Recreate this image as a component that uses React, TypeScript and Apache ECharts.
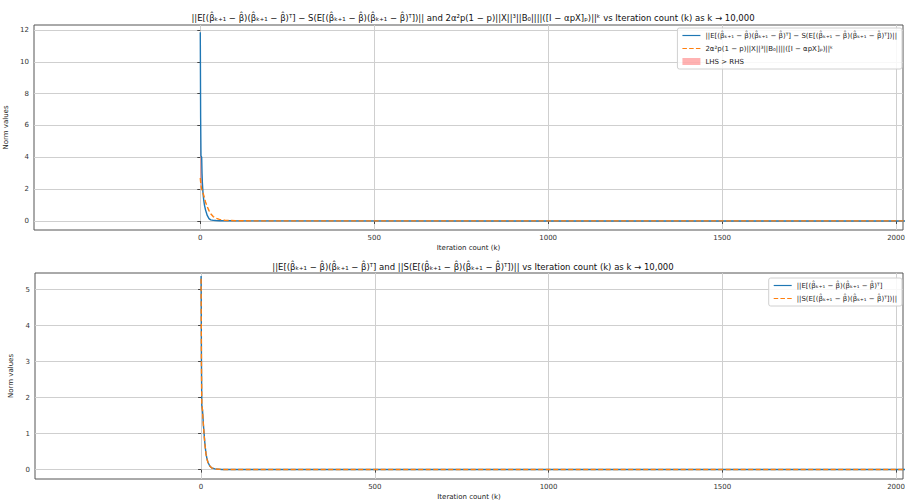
import React, { useEffect, useRef } from "react";
import * as echarts from "echarts";

// ---- data ----
const kTop = [0, 1, 2, 3, 4, 5, 6, 8, 10, 12, 15, 20, 25, 30, 37, 45, 55, 70, 85, 100, 150, 10000];
const blueTop = [11.85, 6.5, 4.1, 4.05, 4.0, 3.0, 2.4, 1.7, 1.3, 1.0, 0.7, 0.35, 0.15, 0.07, 0.04, 0.03, 0.02, 0.02, 0.015, 0.01, 0.005, 0.0];
const orangeTop = [2.7, 2.45, 2.25, 2.1, 2.0, 1.95, 1.85, 1.75, 1.6, 1.45, 1.2, 0.9, 0.65, 0.45, 0.28, 0.17, 0.1, 0.05, 0.03, 0.02, 0.01, 0.0];

const kBottom = [0, 1, 2, 3, 4, 5, 7, 9, 11, 14, 17, 20, 25, 30, 40, 60, 10000];
const blueBottom = [5.38, 3.0, 1.8, 1.72, 1.66, 1.5, 1.2, 0.95, 0.72, 0.45, 0.3, 0.2, 0.1, 0.05, 0.02, 0.005, 0.0];
const orangeBottom = [5.3, 2.9, 1.85, 1.74, 1.64, 1.48, 1.18, 0.93, 0.7, 0.44, 0.29, 0.19, 0.1, 0.05, 0.02, 0.005, 0.0];

const xTicks = [0, 500, 1000, 1500, 2000];
const yTicksTop = [0, 2, 4, 6, 8, 10, 12];
const yTicksBottom = [0, 1, 2, 3, 4, 5];

const TITLE_TOP =
  "||E[(β̂ₖ₊₁ − β̂)(β̂ₖ₊₁ − β̂)ᵀ] − S(E[(β̂ₖ₊₁ − β̂)(β̂ₖ₊₁ − β̂)ᵀ])|| and 2α²p(1 − p)||X||³||B₀||||([I − αpX]ₚ)||ᵏ vs Iteration count (k) as k → 10,000";
const TITLE_BOTTOM =
  "||E[(β̂ₖ₊₁ − β̂)(β̂ₖ₊₁ − β̂)ᵀ] and ||S(E[(β̂ₖ₊₁ − β̂)(β̂ₖ₊₁ − β̂)ᵀ])|| vs Iteration count (k) as k → 10,000";
const NAME_LHS = "||E[(β̂ₖ₊₁ − β̂)(β̂ₖ₊₁ − β̂)ᵀ] − S(E[(β̂ₖ₊₁ − β̂)(β̂ₖ₊₁ − β̂)ᵀ])||";
const NAME_RHS = "2α²p(1 − p)||X||³||B₀||||([I − αpX]ₚ)||ᵏ";
const NAME_FILL = "LHS > RHS";
const NAME_E = "||E[(β̂ₖ₊₁ − β̂)(β̂ₖ₊₁ − β̂)ᵀ]";
const NAME_S = "||S(E[(β̂ₖ₊₁ − β̂)(β̂ₖ₊₁ − β̂)ᵀ])||";

const BLUE = "#1f77b4";
const ORANGE = "#ff7f0e";
const FILL = "rgba(255,0,0,0.3)";
const FONT = "DejaVu Sans";
const ICON_SOLID = "path://M0,0H20V1.3H0Z";
const ICON_DASHED = "path://M0,0H5V1.3H0ZM7.5,0H12.5V1.3H7.5ZM15,0H20V1.3H15Z";

function pairs(xs: number[], ys: number[]) {
  return xs.map((x, i) => [x, ys[i]]);
}

// polygons of the region where up > lo
function fillPolys(ks: number[], up: number[], lo: number[]) {
  const polys: number[][][] = [];
  let top: number[][] = [];
  let bot: number[][] = [];
  for (let i = 0; i < ks.length; i++) {
    const d = up[i] - lo[i];
    if (d > 0) {
      top.push([ks[i], up[i]]);
      bot.push([ks[i], lo[i]]);
    }
    if (i < ks.length - 1) {
      const d2 = up[i + 1] - lo[i + 1];
      if (d > 0 !== d2 > 0) {
        const t = d / (d - d2);
        const x = ks[i] + t * (ks[i + 1] - ks[i]);
        const y = up[i] + t * (up[i + 1] - up[i]);
        top.push([x, y]);
        bot.push([x, y]);
        if (d > 0) {
          polys.push(top.concat(bot.reverse()));
          top = [];
          bot = [];
        }
      }
    }
  }
  if (top.length) polys.push(top.concat(bot.reverse()));
  return polys;
}

export default function App() {
  const ref = useRef<HTMLDivElement>(null);

  useEffect(() => {
    if (!ref.current) return;
    const chart = echarts.init(ref.current, undefined, { renderer: "svg" });

    const polys = fillPolys(kTop, blueTop, orangeTop);
    const fmt = (v: number) => String(v);

    const xAxisCommon = (gridIndex: number) => ({
      type: "value",
      gridIndex,
      min: -478,
      max: 2020,
      minInterval: 500,
      maxInterval: 500,
      name: "Iteration count (k)",
      nameLocation: "middle",
      nameGap: 14,
      nameTextStyle: { fontFamily: FONT, fontSize: 7, color: "#222" },
      axisLine: { show: false },
      axisTick: { show: true, customValues: xTicks, length: 3, lineStyle: { color: "#444" } },
      axisLabel: {
        customValues: xTicks,
        formatter: fmt,
        fontFamily: FONT,
        fontSize: 7,
        color: "#333",
        margin: 4,
      },
      splitLine: { show: true, lineStyle: { color: "#cfcfcf", width: 1 } },
    });

    const yAxisCommon = (gridIndex: number, min: number, max: number, step: number, ticks: number[]) => ({
      type: "value",
      gridIndex,
      min,
      max,
      minInterval: step,
      maxInterval: step,
      name: "Norm values",
      nameLocation: "middle",
      nameRotate: 90,
      nameGap: 18,
      nameTextStyle: { fontFamily: FONT, fontSize: 7, color: "#222" },
      axisLine: { show: false },
      axisTick: { show: true, customValues: ticks, length: 3, lineStyle: { color: "#444" } },
      axisLabel: {
        customValues: ticks,
        formatter: fmt,
        fontFamily: FONT,
        fontSize: 7,
        color: "#333",
        margin: 5,
      },
      splitLine: { show: true, lineStyle: { color: "#cfcfcf", width: 1 } },
    });

    const legendCommon = {
      orient: "vertical",
      right: 3,
      itemWidth: 18,
      itemHeight: 7,
      itemGap: 6,
      padding: [4, 5, 4, 5],
      borderColor: "#d0d0d0",
      borderWidth: 1,
      borderRadius: 2,
      backgroundColor: "rgba(255,255,255,0.85)",
      align: "left",
      textStyle: { fontFamily: FONT, fontSize: 7, color: "#222" },
    };

    chart.setOption({
      animation: false,
      backgroundColor: "#ffffff",
      title: [
        {
          text: TITLE_TOP,
          left: 468,
          top: 8,
          textAlign: "center",
          textStyle: { fontFamily: FONT, fontSize: 8.5, fontWeight: "normal", color: "#111" },
        },
        {
          text: TITLE_BOTTOM,
          left: 468,
          top: 257,
          textAlign: "center",
          textStyle: { fontFamily: FONT, fontSize: 8.5, fontWeight: "normal", color: "#111" },
        },
      ],
      grid: [
        { left: 34, right: 2, top: 25, height: 205, show: true, borderColor: "#555", borderWidth: 1, backgroundColor: "transparent", outerBoundsMode: "none", containLabel: false },
        { left: 35, right: 2, top: 273, height: 206, show: true, borderColor: "#555", borderWidth: 1, backgroundColor: "transparent", outerBoundsMode: "none", containLabel: false },
      ],
      legend: [
        {
          ...legendCommon,
          top: 28,
          data: [
            { name: NAME_LHS, icon: ICON_SOLID },
            { name: NAME_RHS, icon: ICON_DASHED },
            { name: NAME_FILL, icon: "rect", itemStyle: { color: FILL } },
          ],
        },
        {
          ...legendCommon,
          top: 278,
          data: [
            { name: NAME_E, icon: ICON_SOLID },
            { name: NAME_S, icon: ICON_DASHED },
          ],
        },
      ],
      xAxis: [xAxisCommon(0), xAxisCommon(1)],
      yAxis: [
        yAxisCommon(0, -0.565, 12.31, 2, yTicksTop),
        yAxisCommon(1, -0.26, 5.46, 1, yTicksBottom),
      ],
      series: [
        {
          name: NAME_FILL,
          type: "custom",
          xAxisIndex: 0,
          yAxisIndex: 0,
          data: [[0, 0]],
          itemStyle: { color: FILL },
          clip: true,
          silent: true,
          z: 1,
          renderItem: (_params: any, api: any) => ({
            type: "group",
            children: polys.map((p) => ({
              type: "polygon",
              shape: { points: p.map((pt) => api.coord(pt)) },
              style: { fill: FILL, stroke: "none" },
            })),
          }),
        },
        {
          name: NAME_LHS,
          type: "line",
          xAxisIndex: 0,
          yAxisIndex: 0,
          data: pairs(kTop, blueTop),
          symbol: "none",
          color: BLUE,
          lineStyle: { color: BLUE, width: 1.4 },
          z: 3,
        },
        {
          name: NAME_RHS,
          type: "line",
          xAxisIndex: 0,
          yAxisIndex: 0,
          data: pairs(kTop, orangeTop),
          symbol: "none",
          color: ORANGE,
          lineStyle: { color: ORANGE, width: 1.4, type: [5, 2.5] },
          z: 4,
        },
        {
          name: NAME_E,
          type: "line",
          xAxisIndex: 1,
          yAxisIndex: 1,
          data: pairs(kBottom, blueBottom),
          symbol: "none",
          color: BLUE,
          lineStyle: { color: BLUE, width: 1.4 },
          z: 3,
        },
        {
          name: NAME_S,
          type: "line",
          xAxisIndex: 1,
          yAxisIndex: 1,
          data: pairs(kBottom, orangeBottom),
          symbol: "none",
          color: ORANGE,
          lineStyle: { color: ORANGE, width: 1.4, type: [5, 2.5] },
          z: 4,
        },
      ],
    });

    return () => chart.dispose();
  }, []);

  return (
    <div
      ref={ref}
      style={{ position: "fixed", left: 0, top: 0, width: 905, height: 500, background: "#fff" }}
    />
  );
}
